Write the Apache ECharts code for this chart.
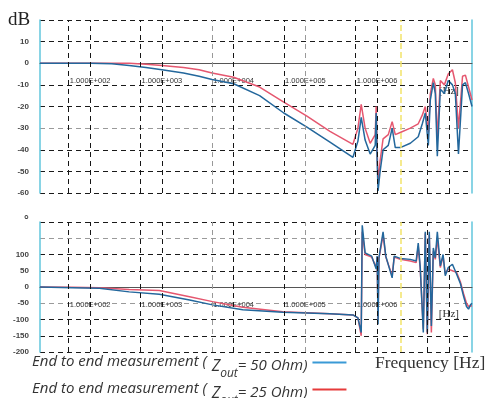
<!DOCTYPE html>
<html><head><meta charset="utf-8">
<script src="https://cdn.jsdelivr.net/npm/echarts@6/dist/echarts.min.js"></script>
<style>html,body{margin:0;padding:0;background:#fff}#c{width:488px;height:398px}</style>
</head><body><div id="c"></div>
<script>
// ---- data (frequency in Hz) ----
const freqMag = [20, 100, 200, 350, 600, 1000, 2000, 3300, 5000, 10000, 23000, 50000, 105000, 220000, 460000, 490000, 540000, 600000, 680000, 800000, 940000, 970000, 1000000, 1030000, 1100000, 1210000, 1430000, 1620000, 1790000, 2100000, 2900000, 3740000, 4260000, 4690000, 5170000, 5510000, 6070000, 6470000, 6900000, 7600000, 8650000, 9800000, 11200000, 12300000, 13600000, 15500000, 17000000, 18800000, 21000000];
const magBlue = [0, 0, -0.2, -1, -2, -3, -4.5, -6, -7.5, -9.5, -15, -23, -29.5, -36.5, -43.5, -43, -36, -25, -35.5, -42, -38, -23, -45, -59, -50, -40, -38, -30, -39, -39, -37, -34, -28, -23, -38, -17, -9, -14, -43, -12, -14, -8, -10, -14, -42, -10, -9, -14, -20];
const magRed = [0, 0, 0, 0, -0.5, -1, -2, -3, -4.5, -6.5, -11, -18, -24.5, -31.5, -37.5, -37, -30, -19, -30, -37, -33, -20, -40, -55, -45, -35, -33, -27, -33, -32, -30, -28, -24, -20, -32, -14, -7, -10, -35, -8, -10, -5, -3, -9, -30, -6, -5.5, -11, -17];

const freqPh = [20, 56, 134, 350, 920, 2430, 5080, 13400, 48400, 220000, 460000, 540000, 600000, 620000, 680000, 840000, 970000, 1000000, 1030000, 1060000, 1210000, 1320000, 1620000, 1730000, 2100000, 2900000, 3500000, 3740000, 3990000, 4400000, 4690000, 5000000, 5330000, 5700000, 6070000, 6470000, 6900000, 7600000, 8300000, 8900000, 9800000, 11200000, 12800000, 14500000, 16000000, 17600000, 18800000, 20000000, 21000000];
const phBlue = [0, -2, -4, -15, -22, -40, -55, -70, -78, -82, -86, -95, -140, 190, 105, 95, 55, 95, -115, 90, 170, 95, 28, 95, 88, 85, 80, 135, 60, -140, 170, -140, 170, -120, 120, 90, 170, 65, 100, 35, 60, 70, 40, 10, -28, -60, -68, -55, -50];
const phRed = [0, -1, -2, -8, -11, -30, -45, -62, -76, -82, -86, -95, -150, 170, 100, 92, 60, 92, -100, 88, 160, 92, 35, 92, 85, 80, 75, 125, 55, -130, 165, -145, 160, -140, 110, 85, 150, 60, 95, 40, 55, 50, 45, 15, -20, -50, -60, -60, -58];

const gridFreqs = [50, 100, 500, 1000, 5000, 10000, 50000, 100000, 500000, 1000000, 5000000, 10000000];
const lightFreqs = [5000, 100000];
const markerFreq = 2100000;
const seriesNames = ['End to end measurement (Zout= 50 Ohm)', 'End to end measurement (Zout= 25 Ohm)'];
const magRange = [-60, 20, 10];
const phRange = [-200, 200, 50];

// ---- layout / styling ----
const G = [{ left: 40, right: 16, top: 20, height: 173 }, { left: 40, right: 16, top: 222, height: 130 }];
const BLUE = '#23679c', RED = '#e5576f', CYAN = '#62c6dc';
const pairs = (f, v) => f.map((x, i) => [x, v[i]]);
const zeroOffset = (g, r) => -g.height * (0 - r[0]) / (r[1] - r[0]);

function xLabel(v) {
  const e = Math.log10(v), r = Math.round(e);
  if (Math.abs(e - r) > 1e-6) return '';
  if (r >= 2 && r <= 6) return '1.000E+00' + r;
  if (r === 7) return '{hz|[Hz]}';
  return '';
}
function xAxisCfg(idx, rng, hzPad) {
  return {
    type: 'log', logBase: 10, gridIndex: idx, min: 20, max: 21000000,
    offset: zeroOffset(G[idx], rng),
    axisLine: { onZero: false, lineStyle: { color: '#555', width: 1 } },
    axisTick: { show: false }, splitLine: { show: false },
    axisLabel: { margin: 14, fontSize: 7.5, color: '#333', fontFamily: 'Liberation Sans', formatter: xLabel,
      showMinLabel: false, showMaxLabel: false,
      rich: { hz: { fontSize: 11, color: '#333', fontFamily: 'Liberation Serif', padding: [hzPad, 0, 0, 0] } } }
  };
}
function yAxisCfg(idx, rng, colors, fmt) {
  return {
    type: 'value', gridIndex: idx, min: rng[0], max: rng[1], interval: rng[2],
    axisLine: { show: true, onZero: false, lineStyle: { color: CYAN, width: 1.5 } },
    axisTick: { show: false },
    splitLine: { show: true, lineStyle: { color: colors, type: [5, 4], width: 1 } },
    axisLabel: { margin: 11, fontSize: 8, fontWeight: 'bold', color: '#444', fontFamily: 'Liberation Sans', formatter: fmt }
  };
}
function yRight(idx, rng) {
  return { type: 'value', gridIndex: idx, position: 'right', min: rng[0], max: rng[1], interval: rng[2],
    axisLine: { show: true, onZero: false, lineStyle: { color: CYAN, width: 1.5 } },
    axisTick: { show: false }, axisLabel: { show: false }, splitLine: { show: false } };
}
function gridLines(xIdx, yIdx) {
  const data = gridFreqs.map(f => ({ xAxis: f, lineStyle: { color: lightFreqs.includes(f) ? '#999' : '#151515', type: [5, 4], width: 1 } }));
  data.push({ xAxis: markerFreq, lineStyle: { color: '#f2e46a', type: [6, 3], width: 1.5 } });
  return { type: 'line', xAxisIndex: xIdx, yAxisIndex: yIdx, data: [], z: 1, silent: true,
    markLine: { symbol: ['none', 'none'], silent: true, label: { show: false }, animation: false, data: data } };
}
function curve(name, color, xIdx, yIdx, f, v) {
  return { name: name, type: 'line', xAxisIndex: xIdx, yAxisIndex: yIdx, data: pairs(f, v), symbol: 'none',
    lineStyle: { color: color, width: 1.5 }, itemStyle: { color: color }, z: 3 };
}

const dark = '#1a1a1a', lite = '#9a9a9a';
const chart = echarts.init(document.getElementById('c'), null, { renderer: 'canvas' });
const base = { fontFamily: 'Open Sans', fontStyle: 'italic', color: '#333', verticalAlign: 'top' };
const legRich = {
  t: Object.assign({}, base, { fontSize: 15, lineHeight: 17 }),
  z: Object.assign({}, base, { fontSize: 16, lineHeight: 17, padding: [4, 0, 0, 1] }),
  s: Object.assign({}, base, { fontSize: 12, lineHeight: 12, padding: [14, 0, 0, 0] }),
  t2: Object.assign({}, base, { fontSize: 15, lineHeight: 17, padding: [4, 0, 0, 0] })
};
chart.setOption({
  animation: false,
  backgroundColor: '#fff',
  grid: G,
  xAxis: [xAxisCfg(0, magRange, 8), xAxisCfg(1, phRange, 8)],
  yAxis: [
    yAxisCfg(0, magRange, [dark, dark, dark, lite, dark, dark, dark, dark, dark], v => v === magRange[1] ? '' : String(v)),
    yAxisCfg(1, phRange, [dark, dark, dark, lite, dark, dark, dark, lite, dark], v => (v === 200 || v === 150) ? '' : String(v)),
    yRight(0, magRange), yRight(1, phRange)
  ],
  legend: {
    orient: 'vertical', left: 32, top: 354, height: 80, itemGap: 1, align: 'right', icon: 'rect', itemWidth: 34, itemHeight: 2,
    selectedMode: false, padding: 0,
    data: [
      { name: seriesNames[0], itemStyle: { color: '#3a9ad6' } },
      { name: seriesNames[1], itemStyle: { color: '#e63b3b' } }
    ],
    formatter: n => n.indexOf('50') > -1
      ? '{t|End to end measurement ( }{z|Z}{s|out}{t2|= 50 Ohm)}'
      : '{t|End to end measurement ( }{z|Z}{s|out}{t2|= 25 Ohm)}',
    textStyle: { rich: legRich }
  },
  graphic: [
    { type: 'text', left: 8, top: 11, style: { text: 'dB', fontFamily: 'Liberation Serif', fontSize: 19, fill: '#222' } },
    { type: 'text', left: 24, top: 215, style: { text: '°', fontFamily: 'Liberation Sans', fontSize: 12, fontWeight: 'bold', fill: '#444' } },
    { type: 'text', left: 375, top: 354, style: { text: 'Frequency [Hz]', fontFamily: 'Liberation Serif', fontSize: 17.5, fill: '#333' } }
  ],
  series: [
    gridLines(0, 0), gridLines(1, 1),
    curve(seriesNames[1], RED, 0, 0, freqMag, magRed),
    curve(seriesNames[0], BLUE, 0, 0, freqMag, magBlue),
    curve(seriesNames[1], RED, 1, 1, freqPh, phRed),
    curve(seriesNames[0], BLUE, 1, 1, freqPh, phBlue)
  ]
});
</script></body></html>
